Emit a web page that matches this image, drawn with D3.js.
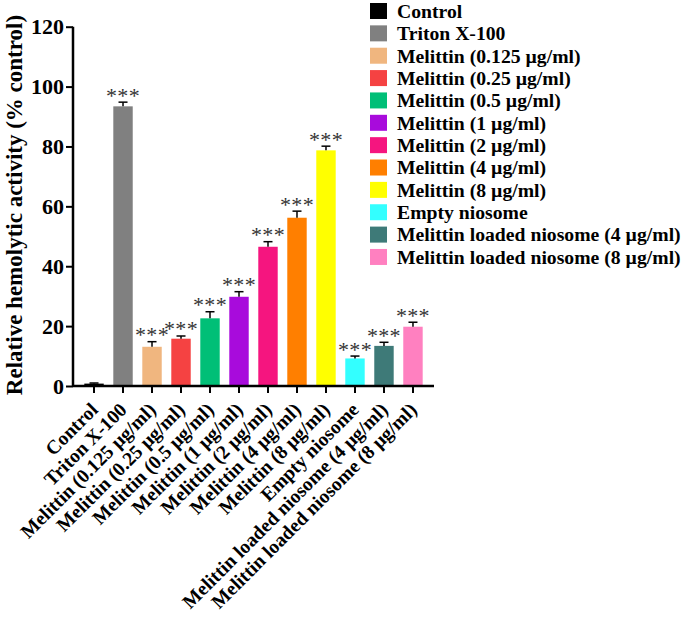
<!DOCTYPE html>
<html>
<head>
<meta charset="utf-8">
<script src="https://cdn.jsdelivr.net/npm/d3@7"></script>
<style>
  html, body { margin: 0; padding: 0; background: #fff; }
  svg { display: block; }
  text { font-family: "Liberation Serif", "Times New Roman", serif; }
</style>
</head>
<body>
<svg id="chart" width="685" height="617"></svg>
<script>
const categories = [
  "Control", "Triton X-100", "Melittin (0.125 µg/ml)", "Melittin (0.25 µg/ml)",
  "Melittin (0.5 µg/ml)", "Melittin (1 µg/ml)", "Melittin (2 µg/ml)", "Melittin (4 µg/ml)",
  "Melittin (8 µg/ml)", "Empty niosome", "Melittin loaded niosome (4 µg/ml)",
  "Melittin loaded niosome (8 µg/ml)"
];
const values = [0.8, 93.4, 13.1, 15.8, 22.6, 29.8, 46.5, 56.2, 78.7, 9.2, 13.4, 19.8];
const errors = [0.2, 1.4, 1.7, 0.9, 2.2, 1.7, 1.7, 2.2, 1.4, 0.8, 1.2, 1.5];
const significance = ["", "***", "***", "***", "***", "***", "***", "***", "***", "***", "***", "***"];
const colors = ["#000000", "#808080", "#F0B67F", "#F54242", "#00BF77", "#A80BDC",
                "#F5157F", "#FF7F00", "#FFFF00", "#33FFFF", "#3E7A78", "#FF80C0"];
const yTicks = [0, 20, 40, 60, 80, 100, 120];
const yTitle = "Relative hemolytic activity (% control)";

const svg = d3.select("#chart");
const mLeft = 73, mRight = 434, mTop = 26.7, mBottom = 386;

const x = d3.scaleBand().domain(categories).range([mLeft, mRight])
  .paddingInner(0.33).paddingOuter(0.39);
const y = d3.scaleLinear().domain([0, 120]).range([mBottom, mTop]);
const color = d3.scaleOrdinal().domain(categories).range(colors);

const data = categories.map((c, i) => ({ c, v: values[i], e: errors[i], s: significance[i] }));

// bars
svg.append("g").selectAll("rect").data(data).join("rect")
  .attr("x", d => x(d.c))
  .attr("width", x.bandwidth())
  .attr("y", d => y(d.v))
  .attr("height", d => y(0) - y(d.v))
  .attr("fill", d => color(d.c));

// error bars (upper)
const eb = svg.append("g").attr("stroke", "#000").attr("stroke-width", 1.5);
data.forEach(d => {
  const cx = x(d.c) + x.bandwidth() / 2;
  eb.append("line").attr("x1", cx).attr("x2", cx).attr("y1", y(d.v)).attr("y2", y(d.v + d.e));
  eb.append("line").attr("x1", cx - 4.5).attr("x2", cx + 4.5).attr("y1", y(d.v + d.e)).attr("y2", y(d.v + d.e));
});

// significance stars
svg.append("g").selectAll("text").data(data.filter(d => d.s)).join("text")
  .attr("x", d => x(d.c) + x.bandwidth() / 2)
  .attr("y", d => y(d.v + d.e) + 0.5)
  .attr("text-anchor", "middle")
  .attr("font-family", "DejaVu Sans, sans-serif")
  .attr("font-size", 22)
  .attr("letter-spacing", 0.3)
  .attr("fill", "#333")
  .text(d => d.s);

// y axis
const yAxis = svg.append("g").attr("transform", `translate(${mLeft},0)`)
  .call(d3.axisLeft(y).tickValues(yTicks).tickSize(7).tickPadding(2).tickFormat(d3.format("d")));
yAxis.select(".domain").attr("stroke-width", 2.5).attr("d", `M0,${mTop}V${mBottom}`);
yAxis.selectAll(".tick line").attr("stroke-width", 2);
yAxis.selectAll(".tick text").attr("font-size", 22).attr("font-weight", "bold")
  .attr("font-family", "Liberation Serif, serif").attr("fill", "#000");

// x axis
const xAxis = svg.append("g").attr("transform", `translate(0,${mBottom})`)
  .call(d3.axisBottom(x).tickSize(7).tickPadding(3));
xAxis.select(".domain").attr("stroke-width", 2.5).attr("d", `M${mLeft},0H${mRight}`);
xAxis.selectAll(".tick line").attr("stroke-width", 2);
xAxis.selectAll(".tick text")
  .attr("font-size", 19.5).attr("font-weight", "bold")
  .attr("font-family", "Liberation Serif, serif").attr("fill", "#000")
  .attr("text-anchor", "end")
  .attr("transform", "translate(5,25) rotate(-45)")
  .attr("dy", 0).attr("y", 0).attr("x", 0);

// y title
svg.append("text")
  .attr("transform", `translate(22,205) rotate(-90)`)
  .attr("text-anchor", "middle")
  .attr("font-size", 23).attr("font-weight", "bold")
  .text(yTitle);

// legend
const lg = svg.append("g");
data.forEach((d, i) => {
  const cy = 11 + i * 22.36;
  lg.append("rect").attr("x", 370).attr("y", cy - 8).attr("width", 17).attr("height", 16)
    .attr("fill", color(d.c));
  lg.append("text").attr("x", 397).attr("y", cy).attr("dy", "0.35em")
    .attr("font-size", 19.7).attr("font-weight", "bold").text(d.c);
});
</script>
</body>
</html>
